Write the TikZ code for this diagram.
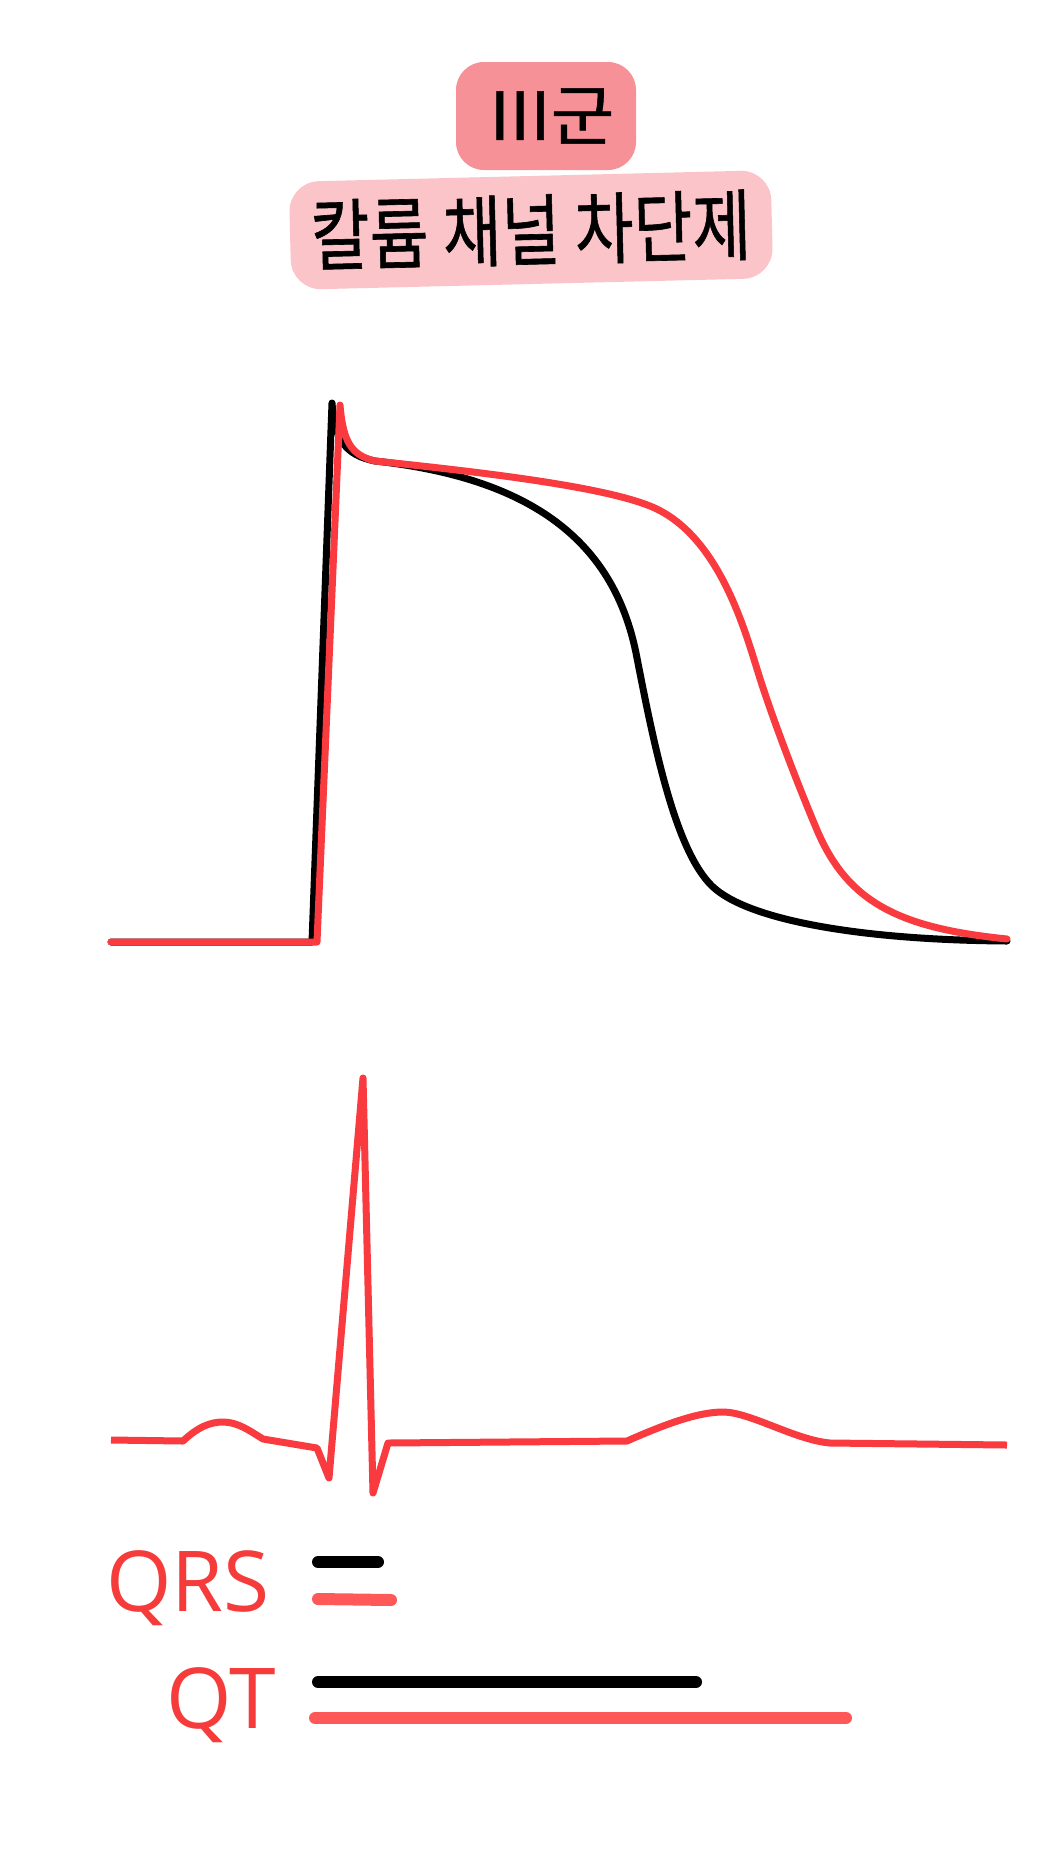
\documentclass[tikz,border=0pt]{standalone}
\usepackage{fontspec}
\usepackage{graphicx}
\usepackage{tikz}
\newfontfamily\krfont[FakeBold=0.8]{Noto Sans CJK KR}
\newfontfamily\labelfont{Open Sans}
\definecolor{classpink}{HTML}{F69197}
\definecolor{namepink}{HTML}{FAC4C9}
\definecolor{curvered}{HTML}{F93A3F}
\definecolor{labelred}{HTML}{F63B3B}
\definecolor{barred}{HTML}{FF5858}

\begin{document}
\begin{tikzpicture}[
    x=1pt, y=-1pt,
    titlebox/.style={rectangle, rounded corners=28pt, inner sep=0pt, text=black, font=\krfont},
    wavelabel/.style={inner sep=0pt, anchor=base west, text=labelred, font=\labelfont\fontsize{84}{90}\selectfont},
    apcurve/.style={line width=7pt, line join=round, line cap=round},
    ecgcurve/.style={line width=7pt, line join=round, color=curvered},
    bar/.style={line width=12pt, line cap=round}
]
\fill[white] (0,0) rectangle (1063,1875);
\useasboundingbox (0,0) rectangle (1063,1875);

\node[titlebox, fill=classpink, minimum width=180pt, minimum height=108pt] (classbox) at (546,116) {\hspace*{12pt}\scalebox{1.05}[1]{\fontsize{66}{66}\selectfont III군}};
\node[titlebox, fill=namepink, minimum width=482pt, minimum height=108pt, rotate=1.4, rounded corners=30pt] (namebox) at (531,230) {\scalebox{0.82}[1]{\fontsize{78}{78}\selectfont 칼륨 채널 차단제}};

% action potential
\draw[apcurve, black] (111,942) -- (312,942) -- (332,403)
    .. controls (335,440) and (345,455) .. (375,461)
    .. controls (530,478) and (615,540) .. (637,658)
    .. controls (654,745) and (675,850) .. (712,886)
    .. controls (747,920) and (860,940) .. (1007,941);
\draw[apcurve, curvered] (111,942) -- (317,942) -- (340,405)
    .. controls (343,440) and (350,455) .. (375,461)
    .. controls (480,472) and (600,486) .. (650,506)
    .. controls (715,532) and (742,620) .. (757,669)
    .. controls (772,718) and (800,790) .. (817,830)
    .. controls (848,903) and (900,928) .. (1007,939);

% ecg
\draw[ecgcurve] (111,1440) -- (183,1441)
    .. controls (198,1427) and (210,1422) .. (223,1422)
    .. controls (238,1422) and (250,1431) .. (263,1439)
    -- (317,1448) -- (329,1478) -- (363,1078) -- (373,1493) -- (388,1443) -- (627,1441)
    .. controls (670,1422) and (700,1412) .. (723,1412)
    .. controls (750,1412) and (795,1440) .. (830,1443)
    -- (1007,1445);

\node[wavelabel] (qrslabel) at (106,1611) {QRS};
\node[wavelabel] (qtlabel) at (166,1728) {QT};

\draw[bar, black] (318,1562) -- (378,1562);
\draw[bar, barred] (318,1599) -- (391,1600);
\draw[bar, black] (318,1682) -- (696,1682);
\draw[bar, barred] (315,1718) -- (846,1718);
\end{tikzpicture}
\end{document}
